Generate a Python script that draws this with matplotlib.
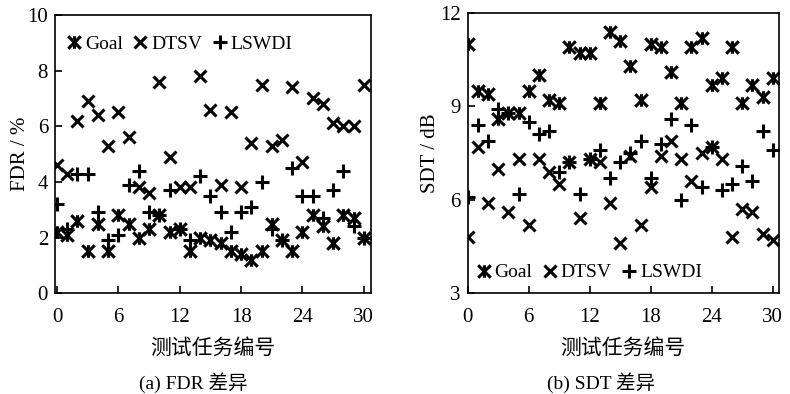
import matplotlib
matplotlib.use("Agg")
import matplotlib.pyplot as plt
from matplotlib.path import Path

plt.rcParams['font.family'] = ['Liberation Serif', 'Noto Sans CJK SC']

tasks = list(range(31))

# (a) FDR / %
fdr_goal = [2.2, 2.1, 2.6, 1.5, 2.5, 1.5, 2.8, 2.5, 2.0, 2.3, 2.8, 2.2, 2.3, 1.5, 2.0, 1.9,
            1.8, 1.5, 1.4, 1.2, 1.5, 2.5, 1.9, 1.5, 2.2, 2.8, 2.4, 1.8, 2.8, 2.7, 2.0]
fdr_dtsv = [4.6, 4.3, 6.2, 6.9, 6.4, 5.3, 6.5, 5.6, 3.8, 3.6, 7.6, 4.9, 3.8, 3.8, 7.8, 6.6,
            3.9, 6.5, 3.8, 5.4, 7.5, 5.3, 5.5, 7.4, 4.7, 7.0, 6.8, 6.1, 6.0, 6.0, 7.5]
fdr_lswdi = [3.2, 2.3, 4.3, 4.3, 2.9, 1.9, 2.1, 3.9, 4.4, 2.9, 2.8, 3.7, 2.3, 1.9, 4.2, 3.5,
             2.9, 2.2, 2.9, 3.1, 4.0, 2.3, 1.9, 4.5, 3.5, 3.5, 2.7, 3.7, 4.4, 2.4, 2.0]

# (b) SDT / dB
sdt_goal = [11.0, 9.5, 9.4, 8.6, 8.8, 8.8, 9.5, 10.0, 9.2, 9.1, 10.9, 10.7, 10.7, 9.1, 11.4, 11.1,
            10.3, 9.2, 11.0, 10.9, 10.1, 9.1, 10.9, 11.2, 9.7, 9.9, 10.9, 9.1, 9.7, 9.3, 9.9]
sdt_dtsv = [4.8, 7.7, 5.9, 7.0, 5.6, 7.3, 5.2, 7.3, 6.9, 6.5, 7.2, 5.4, 7.3, 7.2, 5.9, 4.6,
            7.4, 5.2, 6.4, 7.4, 7.9, 7.3, 6.6, 7.5, 7.7, 7.3, 4.8, 5.7, 5.6, 4.9, 4.7]
sdt_lswdi = [6.1, 8.4, 7.9, 8.9, 8.8, 6.2, 8.5, 8.1, 8.2, 6.9, 7.2, 6.2, 7.3, 7.6, 6.7, 7.2,
             7.5, 7.9, 6.7, 7.8, 8.6, 6.0, 8.4, 6.4, 7.7, 6.3, 6.5, 7.1, 6.6, 8.2, 7.6]

xticks = [0, 6, 12, 18, 24, 30]

# X with a vertical stroke through it
star = Path([(-1, -1), (1, 1), (-1, 1), (1, -1), (0, -1), (0, 1)],
            [Path.MOVETO, Path.LINETO, Path.MOVETO, Path.LINETO, Path.MOVETO, Path.LINETO])


def draw(ax, goal, dtsv, lswdi):
    ax.plot(tasks, goal, ls='none', marker=star, ms=9, mew=2.2, color='black', label='Goal')
    ax.plot(tasks, dtsv, ls='none', marker='x', ms=9, mew=2.2, color='black', label='DTSV')
    ax.plot(tasks, lswdi, ls='none', marker='+', ms=10, mew=2.2, color='black', label='LSWDI')
    ax.set_xticks(xticks)
    ax.tick_params(direction='in', length=5, width=1.2, labelsize=15)
    ax.tick_params(axis='x', pad=11)
    ax.tick_params(axis='y', pad=5)
    for s in ax.spines.values():
        s.set_linewidth(1.2)
    ax.set_xlabel('测试任务编号', fontsize=15, labelpad=8)


fig = plt.figure(figsize=(7.9, 3.94), dpi=100)

ax1 = fig.add_axes([0.0696, 0.256, 0.400, 0.706])
draw(ax1, fdr_goal, fdr_dtsv, fdr_lswdi)
ax1.set_xlim(-0.2, 30.7)
ax1.set_ylim(0, 10)
ax1.set_yticks([0, 2, 4, 6, 8, 10])
ax1.set_ylabel('FDR / %', fontsize=15, labelpad=-2)
ax1.legend(loc='upper left', ncol=3, frameon=False, fontsize=14, handlelength=0.8,
           handletextpad=0.15, columnspacing=0.5, borderaxespad=0.2, bbox_to_anchor=(0.0, 0.97))

ax2 = fig.add_axes([0.592, 0.256, 0.394, 0.711])
draw(ax2, sdt_goal, sdt_dtsv, sdt_lswdi)
ax2.set_xlim(0, 30.6)
ax2.set_ylim(3, 12)
ax2.set_yticks([3, 6, 9, 12])
ax2.set_ylabel('SDT / dB', fontsize=15, labelpad=0)
ax2.legend(loc='lower left', ncol=3, frameon=False, fontsize=14, handlelength=0.8,
           handletextpad=0.15, columnspacing=0.5, borderaxespad=0.2, bbox_to_anchor=(-0.01, 0.0))

fig.text(0.244, 0.030, '(a) FDR 差异', ha='center', va='center', fontsize=14)
fig.text(0.761, 0.030, '(b) SDT 差异', ha='center', va='center', fontsize=14)

fig.savefig('out.png', dpi=100)
